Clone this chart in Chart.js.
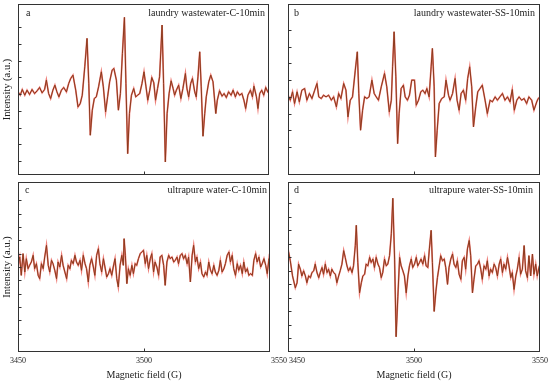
<!DOCTYPE html>
<html lang="en">
<head>
<meta charset="UTF-8">
<title>EPR spectra</title>
<script src="https://cdn.jsdelivr.net/npm/chart.js"></script>
<style>
  body { margin: 0; background: #fff; }
  #wrap { position: relative; width: 550px; height: 383px; overflow: hidden; font-family: "Liberation Serif", serif; color: #222; }
  canvas { position: absolute; }
  .lbl { position: absolute; font-size: 10px; line-height: 12px; white-space: nowrap; }
</style>
</head>
<body>
<div id="wrap">
  <canvas id="chartA" width="277" height="180" style="left:0;top:0"></canvas>
  <canvas id="chartC" width="290" height="203" style="left:0;top:180px"></canvas>
  <canvas id="chartB" width="273" height="180" style="left:277px;top:0"></canvas>
  <canvas id="chartD" width="273" height="203" style="left:277px;top:180px"></canvas>

  <div class="lbl" style="left:26px;top:7px">a</div>
  <div class="lbl" style="right:285px;top:7px">laundry wastewater-C-10min</div>
  <div class="lbl" style="left:294px;top:7px">b</div>
  <div class="lbl" style="right:15px;top:7px">laundry wastewater-SS-10min</div>
  <div class="lbl" style="left:25px;top:184px">c</div>
  <div class="lbl" style="right:283px;top:184px">ultrapure water-C-10min</div>
  <div class="lbl" style="left:294px;top:184px">d</div>
  <div class="lbl" style="right:17px;top:184px">ultrapure water-SS-10min</div>
</div>

<script>
// magnetic field (G) and intensity (a.u.)
const fieldA = [3450.0,3450.9,3451.7,3452.7,3453.6,3454.6,3455.6,3456.6,3457.6,3458.6,3459.6,3460.6,3461.3,3462.2,3463.0,3463.9,3464.7,3465.5,3466.3,3467.3,3468.2,3469.3,3470.2,3471.0,3471.9,3473.0,3473.9,3474.8,3475.6,3476.6,3477.5,3478.2,3478.8,3479.6,3480.4,3481.2,3482.1,3483.2,3484.0,3484.9,3485.7,3486.5,3487.5,3488.2,3489.2,3490.0,3490.8,3491.6,3492.4,3493.0,3493.7,3494.4,3495.2,3496.1,3496.9,3497.7,3498.5,3499.4,3500.2,3501.0,3501.7,3502.5,3503.3,3504.1,3504.8,3505.6,3506.4,3507.4,3508.0,3508.7,3509.4,3510.2,3511.0,3511.8,3512.4,3513.1,3514.0,3514.9,3515.7,3516.7,3517.3,3518.0,3518.8,3519.5,3520.4,3521.0,3521.7,3522.4,3523.0,3523.7,3524.4,3525.0,3526.0,3526.8,3527.7,3528.8,3529.4,3530.3,3531.3,3532.1,3533.0,3533.9,3534.9,3535.7,3536.6,3537.4,3538.3,3539.2,3540.0,3540.7,3541.6,3542.6,3543.4,3544.0,3545.0,3545.6,3546.3,3547.1,3547.9,3548.7,3549.5,3550.0];
const intensityA = [7,-3,14,-3,12,-1,14,2,10,20,4,14,42,2,-13,12,27,7,-8,12,20,7,32,47,57,12,-38,-28,-3,82,167,32,-123,-48,-13,-8,22,67,22,-53,-8,37,72,77,42,-48,2,122,230,32,-178,-58,-3,17,-8,-3,2,32,67,22,-18,12,50,34,-18,17,52,207,32,-203,-58,2,40,17,-3,12,27,-13,17,62,17,-8,32,47,7,-8,52,127,22,-126,-58,-8,37,57,37,-58,-18,10,-6,2,-10,7,-3,12,-8,7,-3,2,-18,-43,-3,12,-8,24,-8,-43,2,12,-3,20,7,10];

const fieldB = [3450.0,3450.9,3451.8,3452.6,3453.6,3454.5,3455.5,3456.6,3457.5,3458.5,3459.5,3460.6,3461.5,3462.2,3463.2,3464.1,3465.1,3466.1,3467.2,3468.1,3469.2,3470.1,3471.0,3472.1,3473.0,3473.8,3474.7,3475.6,3476.7,3477.5,3478.1,3478.8,3479.6,3480.4,3481.3,3482.2,3483.3,3484.2,3485.0,3485.9,3487.0,3488.3,3489.2,3490.2,3491.0,3491.5,3492.1,3492.8,3493.5,3494.1,3494.9,3495.8,3496.5,3497.4,3498.2,3499.1,3500.2,3500.9,3501.8,3502.7,3503.5,3504.4,3505.1,3506.0,3506.8,3507.3,3508.0,3508.5,3509.2,3510.0,3511.0,3512.0,3512.7,3513.7,3514.3,3515.3,3516.3,3517.1,3517.9,3518.7,3519.6,3520.5,3521.3,3522.1,3522.9,3523.6,3524.5,3525.3,3526.2,3527.1,3528.2,3529.1,3530.2,3531.1,3532.2,3533.1,3534.1,3535.1,3536.1,3537.1,3538.1,3539.0,3539.8,3540.8,3541.7,3542.7,3543.7,3544.7,3545.6,3546.7,3547.6,3548.7,3549.3,3550.0];
const intensityB = [5,-10,15,-20,15,-15,20,25,-10,10,-5,20,40,0,-5,5,0,5,-10,0,-30,10,-5,40,20,-60,-10,0,80,135,10,-100,-40,0,-5,0,50,10,0,-10,30,70,30,-45,-10,90,195,60,-140,-50,25,35,0,-10,5,50,50,-25,-10,15,20,10,25,0,90,145,30,-180,-100,-20,-5,0,50,5,-10,10,55,-10,-40,10,20,-10,55,90,30,-90,-30,15,25,35,-10,-50,-10,-15,0,-10,0,10,-10,0,-15,22,-40,-10,0,-10,-5,-20,0,-10,-40,-15,-5,0];

const fieldC = [3450.0,3450.7,3451.3,3452.0,3452.7,3453.3,3454.0,3454.6,3455.3,3456.0,3456.6,3457.3,3458.0,3458.6,3459.3,3460.0,3460.6,3461.3,3462.0,3462.6,3463.3,3463.9,3464.6,3465.3,3465.9,3466.6,3467.3,3467.9,3468.6,3469.3,3469.9,3470.6,3471.2,3471.9,3472.6,3473.2,3473.9,3474.6,3475.2,3475.9,3476.6,3477.2,3477.9,3478.5,3479.2,3479.9,3480.5,3481.2,3481.9,3482.5,3483.2,3483.9,3484.5,3485.2,3485.9,3486.5,3487.2,3487.8,3488.5,3489.2,3489.8,3490.5,3491.2,3491.8,3492.1,3492.6,3493.2,3493.8,3494.5,3495.2,3495.8,3496.5,3497.1,3497.8,3498.5,3499.1,3499.8,3500.5,3501.1,3501.8,3502.5,3503.1,3503.8,3504.4,3505.1,3505.8,3506.4,3507.1,3507.8,3508.4,3509.1,3509.8,3510.4,3511.1,3511.8,3512.4,3513.1,3513.7,3514.4,3515.1,3515.7,3516.4,3517.1,3517.7,3518.4,3519.1,3519.7,3520.4,3521.0,3521.7,3522.4,3523.0,3523.7,3524.4,3525.0,3525.7,3526.4,3527.0,3527.7,3528.3,3529.0,3529.7,3530.3,3531.0,3531.7,3532.3,3533.0,3533.7,3534.3,3535.0,3535.6,3536.3,3537.0,3537.6,3538.3,3539.0,3539.6,3540.3,3541.0,3541.6,3542.3,3543.0,3543.6,3544.3,3544.9,3545.6,3546.3,3546.9,3547.6,3548.3,3548.9,3549.6,3550.0];
const intensityC = [5,30,-25,40,-15,25,-5,5,15,35,-5,10,-25,-35,10,-5,30,65,5,-15,20,10,-10,-35,15,0,35,5,-15,-35,5,-5,20,10,35,15,5,20,-10,35,10,-5,-45,5,25,0,-25,35,55,10,-15,25,0,-30,-20,-5,-25,0,25,-35,-60,5,35,5,85,35,-50,-5,-25,5,-20,10,5,25,40,45,50,10,35,-5,25,40,-15,15,0,-25,30,35,5,-55,15,35,25,30,15,20,30,10,35,40,25,35,10,30,-45,35,65,15,30,-5,15,-20,-30,-15,-25,15,-10,-20,5,-15,-25,-10,20,-15,-5,10,35,45,15,35,-5,-25,10,-10,5,-20,15,-15,-5,-25,-20,-25,20,40,15,30,0,10,25,5,-20,25,10];

const fieldD = [3450.0,3450.9,3451.8,3452.9,3453.6,3454.2,3454.9,3455.5,3456.2,3456.9,3457.5,3458.2,3458.9,3459.5,3460.2,3460.8,3461.5,3462.2,3462.8,3463.5,3464.1,3464.8,3465.5,3466.1,3466.8,3467.4,3468.1,3468.8,3469.4,3470.1,3470.7,3471.4,3472.1,3472.7,3473.4,3474.0,3474.7,3475.4,3476.0,3476.7,3477.1,3477.7,3478.4,3479.1,3479.7,3480.4,3481.0,3481.7,3482.4,3483.0,3483.7,3484.3,3485.0,3485.7,3486.3,3487.0,3487.6,3488.3,3489.0,3489.6,3490.3,3491.0,3491.6,3492.3,3492.9,3493.6,3494.3,3494.9,3495.6,3496.2,3496.9,3497.6,3498.2,3498.9,3499.5,3500.2,3500.9,3501.5,3502.2,3502.8,3503.5,3504.2,3504.8,3505.5,3506.1,3506.8,3507.3,3508.0,3508.7,3509.3,3510.0,3510.6,3511.3,3512.0,3512.6,3513.3,3513.9,3514.6,3515.3,3515.9,3516.6,3517.2,3517.9,3518.6,3519.2,3519.9,3520.5,3521.2,3521.9,3522.5,3523.2,3523.8,3524.5,3525.2,3525.8,3526.5,3527.1,3527.8,3528.5,3529.1,3529.8,3530.4,3531.1,3531.8,3532.4,3533.1,3533.8,3534.4,3535.1,3535.7,3536.4,3537.1,3537.7,3538.4,3539.0,3539.7,3540.4,3541.0,3541.7,3542.3,3543.0,3543.7,3544.3,3545.0,3545.6,3546.3,3547.0,3547.6,3548.3,3548.9,3549.6,3550.0];
const intensityD = [65,30,-15,-50,-35,20,5,-15,0,-15,-35,-15,-20,-5,0,20,-5,-20,-5,10,-10,20,-5,5,-15,5,-5,-10,-35,-15,0,20,60,40,15,0,10,-5,15,75,135,25,-65,-35,-15,-10,20,15,40,25,35,10,40,20,10,-20,-5,35,15,20,45,110,215,35,-195,-75,40,15,0,-15,-65,-15,15,35,10,20,40,15,25,35,20,45,15,10,65,120,25,-120,-60,-20,15,45,30,35,10,-40,10,35,50,20,10,30,-10,-25,30,40,5,65,90,45,-65,-25,15,20,30,5,-25,15,5,30,-15,5,-5,20,10,-15,20,35,-5,20,5,40,15,-20,-5,-55,-15,5,40,-10,5,75,0,-20,45,-15,50,-10,20,-15,10,20];

const xTicks = [3450, 3500, 3550];

const serif = 'Liberation Serif';

// box round the plot, small inward ticks, and the field labels under the bottom row
const framePlugin = {
  id: 'frame',
  afterDatasetsDraw(chart, args, opts) {
    const { ctx, chartArea: a, scales } = chart;
    const l = Math.round(a.left) + 0.5, t = Math.round(a.top) + 0.5;
    const r = Math.round(a.right) - 0.5, b = Math.round(a.bottom) - 0.5;
    ctx.save();
    ctx.strokeStyle = '#333';
    ctx.lineWidth = 1;
    ctx.strokeRect(l, t, r - l, b - t);
    ctx.beginPath();
    scales.y.ticks.forEach(tk => {
      const y = Math.round(scales.y.getPixelForValue(tk.value)) + 0.5;
      if (y > t + 2 && y < b - 2) { ctx.moveTo(l, y); ctx.lineTo(l + 3, y); }
    });
    const xm = Math.round(scales.x.getPixelForValue(3500)) + 0.5;
    ctx.moveTo(xm, b); ctx.lineTo(xm, b - 3);
    ctx.stroke();

    if (opts.labelAlign) {
      ctx.fillStyle = '#222';
      ctx.font = '8px "Liberation Serif"';
      ctx.textBaseline = 'middle';
      xTicks.forEach((v, i) => {
        ctx.textAlign = opts.labelAlign[i];
        const shift = opts.labelAlign[i] === 'left' ? 1 : 0;
        ctx.fillText(String(v), scales.x.getPixelForValue(v) + shift, a.bottom + 8.5);
      });
    }
    ctx.restore();
  }
};

function makePanel(id, xs, ys, yMin, yMax, yStep, pad, leftSide, labelAlign) {
  const points = xs.map((x, i) => ({ x: x, y: ys[i] }));
  const bottomRow = !!labelAlign;
  new Chart(document.getElementById(id), {
    type: 'line',
    data: {
      datasets: [
        { data: points, borderColor: '#8a3a1c', borderWidth: 1, pointRadius: 0, tension: 0 },
        { data: points, borderColor: 'rgba(226,38,28,0.6)', borderWidth: 1.7, pointRadius: 0, tension: 0 }
      ]
    },
    options: {
      responsive: false,
      animation: false,
      events: [],
      layout: { padding: pad },
      plugins: {
        legend: { display: false },
        tooltip: { enabled: false },
        frame: { labelAlign: labelAlign }
      },
      scales: {
        x: {
          type: 'linear', min: 3450, max: 3550,
          display: bottomRow,
          afterBuildTicks: s => { s.ticks = xTicks.map(v => ({ value: v })); },
          grid: { display: false, drawTicks: false },
          border: { display: false },
          ticks: { display: false },
          title: { display: true, text: 'Magnetic field (G)', color: '#222', font: { family: serif, size: 10 }, padding: { top: 0, bottom: 1 } },
          afterFit: s => { if (bottomRow) { s.height = 30; s.paddingLeft = 0; s.paddingRight = 0; } }
        },
        y: {
          min: yMin, max: yMax,
          display: leftSide,
          grid: { display: false, drawTicks: false },
          border: { display: false },
          ticks: { display: false, stepSize: yStep },
          title: { display: true, text: 'Intensity (a.u.)', color: '#222', font: { family: serif, size: 10.5 }, padding: { top: 1, bottom: 0 } },
          afterFit: s => { if (leftSide) { s.width = 18; } }
        }
      }
    },
    plugins: [framePlugin]
  });
}

makePanel('chartA', fieldA, intensityA, -242, 270, 50, { left: 0, right: 8, top: 4, bottom: 5 }, true, null);
makePanel('chartB', fieldB, intensityB, -234, 278, 50, { left: 11, right: 10, top: 4, bottom: 5 }, false, null);
makePanel('chartC', fieldC, intensityC, -255, 255, 40, { left: 0, right: 20, top: 2, bottom: 1 }, true, ['center', 'center', 'left']);
makePanel('chartD', fieldD, intensityD, -240, 263, 40, { left: 11, right: 10, top: 2, bottom: 1 }, false, ['left', 'center', 'center']);
</script>
</body>
</html>
